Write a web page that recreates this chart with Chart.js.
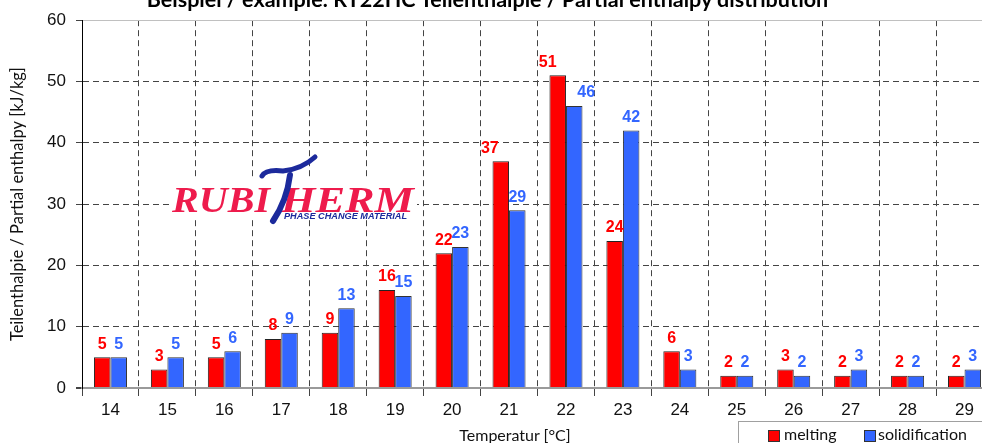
<!DOCTYPE html>
<html lang="de">
<head>
<meta charset="UTF-8">
<title>RT22HC Teilenthalpie</title>
<script src="https://cdn.jsdelivr.net/npm/chart.js"></script>
<style>
    body, html {
        margin: 0;
        padding: 0;
        width: 982px;
        height: 443px;
        overflow: hidden;
        background: #ffffff;
        font-family: "Liberation Sans", Arial, sans-serif;
    }
    .wrap {
        position: absolute;
        left: 0;
        top: 0;
        width: 1000px;
        height: 443px;
    }
    .title {
        position: absolute;
        left: 0;
        width: 975px;
        top: -11px;
        text-align: center;
        font-family: Lato, "Open Sans", sans-serif;
        font-weight: bold;
        font-size: 21.5px;
        line-height: 21px;
        color: #000;
        white-space: nowrap;
    }
    .xtitle {
        position: absolute;
        left: 415px;
        width: 200px;
        top: 426px;
        text-align: center;
        font-family: Lato, "Open Sans", sans-serif;
        font-size: 16px;
        line-height: 18px;
        color: #111;
    }
    .legend {
        position: absolute;
        left: 738px;
        top: 421px;
        width: 300px;
        height: 40px;
        border: 1px solid #a0a0a0;
        font-family: Lato, "Open Sans", sans-serif;
        font-size: 16px;
        color: #111;
    }
    .legend span.box {
        position: absolute;
        top: 8px;
        width: 10px;
        height: 10px;
        border: 1px solid #333;
    }
    .legend span.txt {
        position: absolute;
        top: 2px;
        line-height: 20px;
    }
</style>
</head>
<body>
<div class="wrap">
    <canvas id="enthalpyChart"></canvas>
</div>
<div class="title">Beispiel / example: RT22HC Teilenthalpie / Partial enthalpy distribution</div>
<div class="xtitle">Temperatur [°C]</div>
<div class="legend">
    <span class="box" style="left:29px;background:#ff0000"></span>
    <span class="txt" style="left:45px">melting</span>
    <span class="box" style="left:125px;background:#3366ff"></span>
    <span class="txt" style="left:139px">solidification</span>
</div>

<script>
// data
const temperatures = ['14', '15', '16', '17', '18', '19', '20', '21', '22', '23', '24', '25', '26', '27', '28', '29'];
const melting = [5, 3, 5, 8, 9, 16, 22, 37, 51, 24, 6, 2, 3, 2, 2, 2];
const solidification = [5, 5, 6, 9, 13, 15, 23, 29, 46, 42, 3, 2, 2, 3, 2, 3];

const RED = '#ff0000';
const BLUE = '#3366ff';
const labelColors = [RED, BLUE];
// sideways shift (px) of a few labels so they don't sit on the neighbour bar
const labelNudge = [{ 7: -11, 8: -10 }, { 8: 12 }];

// value labels above each bar
const barLabels = {
    id: 'barLabels',
    afterDatasetsDraw(chart) {
        const ctx = chart.ctx;
        ctx.save();
        ctx.font = 'bold 16px "Liberation Sans", Arial, sans-serif';
        ctx.textAlign = 'center';
        ctx.textBaseline = 'middle';
        chart.data.datasets.forEach((ds, di) => {
            const meta = chart.getDatasetMeta(di);
            const nudge = labelNudge[di] || {};
            ctx.fillStyle = labelColors[di];
            meta.data.forEach((bar, i) => {
                ctx.fillText(String(ds.data[i]), bar.x + (nudge[i] || 0), bar.y - 13);
            });
        });
        ctx.restore();
    }
};

// Rubitherm logo painted over the grid
const logo = {
    id: 'logo',
    beforeDatasetsDraw(chart) {
        const ctx = chart.ctx;
        ctx.save();
        ctx.fillStyle = '#ffffff';
        ctx.fillRect(170, 180, 247, 40);

        const red = '#ee1b4c';
        const blue = '#1c2a9c';
        ctx.fillStyle = red;
        ctx.font = 'italic bold 35px "Liberation Serif", serif';
        ctx.textBaseline = 'alphabetic';
        function stretched(text, x, y, w) {
            const m = ctx.measureText(text).width;
            ctx.save();
            ctx.translate(x, y);
            ctx.scale(w / m, 1);
            ctx.fillText(text, 0, 0);
            ctx.restore();
        }
        stretched('RUBI', 172, 212, 98);
        stretched('HERM', 281, 212, 133);

        // the blue swoosh T
        ctx.strokeStyle = blue;
        ctx.lineCap = 'round';
        ctx.lineWidth = 5;
        ctx.beginPath();
        ctx.moveTo(262, 176);
        ctx.quadraticCurveTo(266, 169, 283, 171);
        ctx.quadraticCurveTo(302, 169, 315, 157);
        ctx.stroke();
        ctx.lineWidth = 6;
        ctx.beginPath();
        ctx.moveTo(290, 175);
        ctx.quadraticCurveTo(287, 200, 273, 221);
        ctx.stroke();

        ctx.fillStyle = blue;
        ctx.font = 'italic bold 9px "Liberation Sans", Arial, sans-serif';
        stretched('PHASE CHANGE MATERIAL', 284, 219, 123);
        ctx.restore();
    }
};

new Chart(document.getElementById('enthalpyChart'), {
    type: 'bar',
    data: {
        labels: temperatures,
        datasets: [
            {
                label: 'melting',
                data: melting,
                backgroundColor: RED,
                borderColor: '#222222',
                borderWidth: 1,
                barPercentage: 1,
                categoryPercentage: 0.58
            },
            {
                label: 'solidification',
                data: solidification,
                backgroundColor: BLUE,
                borderColor: '#333333',
                borderWidth: 1,
                barPercentage: 1,
                categoryPercentage: 0.58
            }
        ]
    },
    options: {
        responsive: true,
        maintainAspectRatio: false,
        animation: false,
        layout: { padding: { top: 16, right: 7, left: 0, bottom: 0 } },
        plugins: {
            legend: { display: false },
            tooltip: { enabled: false },
            title: { display: false }
        },
        scales: {
            x: {
                afterFit: s => { s.height = 55; },
                grid: {
                    offset: true,
                    color: c => c.index === 0 ? 'rgba(0,0,0,0)' : '#444444',
                    lineWidth: 1,
                    tickLength: 8,
                    tickColor: '#444444'
                },
                border: { display: true, color: '#9a9a9a', width: 2, dash: [6, 4] },
                ticks: {
                    color: '#111111',
                    padding: 4,
                    font: { family: '"Liberation Sans", Arial, sans-serif', size: 17 }
                }
            },
            y: {
                min: 0,
                max: 60,
                afterFit: s => { s.width = 82; },
                grid: {
                    color: c => {
                        if (!c.tick) return '#444444';
                        if (c.tick.value === 60) return '#c0c0c0';
                        if (c.tick.value === 0) return '#9a9a9a';
                        return '#444444';
                    },
                    lineWidth: c => (c.tick && c.tick.value === 0) ? 2 : 1,
                    tickLength: 6,
                    tickColor: '#444444'
                },
                border: {
                    display: true,
                    color: '#000000',
                    width: 1,
                    dash: c => (c.tick && c.tick.value > 0 && c.tick.value < 60) ? [6, 4] : []
                },
                ticks: {
                    stepSize: 10,
                    color: '#111111',
                    padding: 10,
                    font: { family: '"Liberation Sans", Arial, sans-serif', size: 17 }
                },
                title: {
                    display: true,
                    text: 'Teilenthalpie / Partial enthalpy [kJ/kg]',
                    color: '#111111',
                    padding: { top: 8, bottom: 0 },
                    font: { family: 'Lato, "Open Sans", sans-serif', size: 16.5 }
                }
            }
        }
    },
    plugins: [barLabels, logo]
});
</script>
</body>
</html>
